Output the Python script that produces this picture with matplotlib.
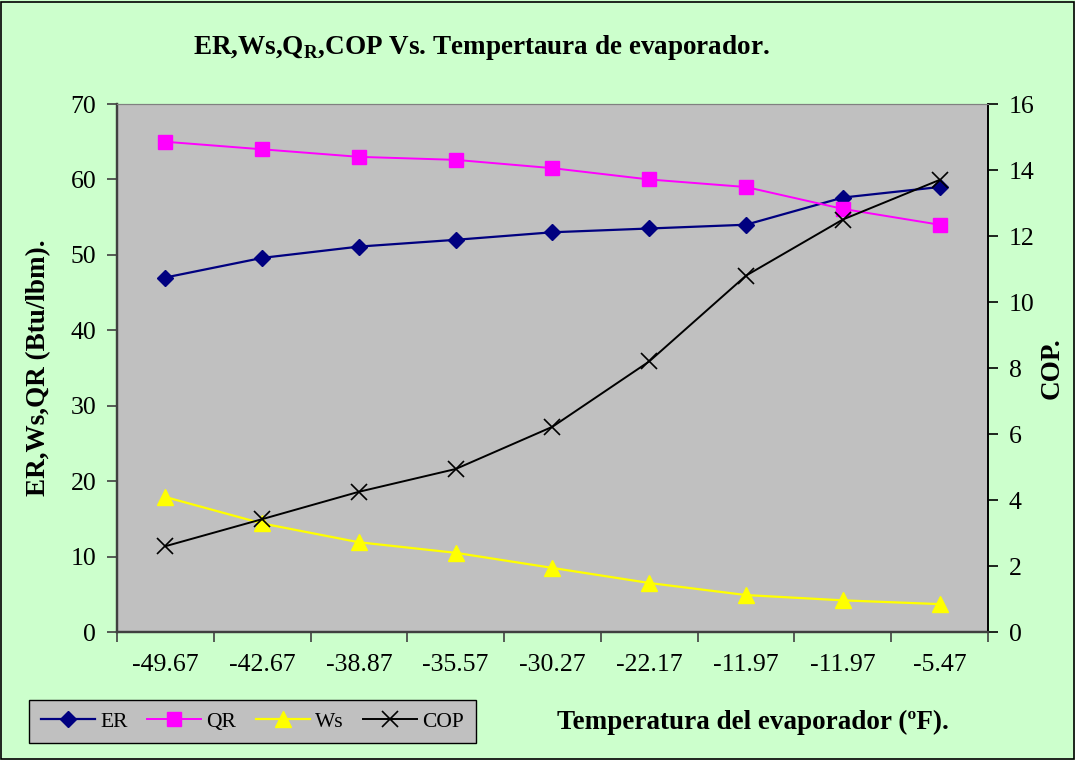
import matplotlib.pyplot as plt
from matplotlib.patches import Rectangle

plt.rcParams["font.family"] = ["Liberation Serif", "DejaVu Serif"]
plt.rcParams["mathtext.fontset"] = "custom"
plt.rcParams["mathtext.rm"] = "Liberation Serif"
plt.rcParams["mathtext.bf"] = "Liberation Serif:bold"

temps = ["-49.67", "-42.67", "-38.87", "-35.57", "-30.27", "-22.17", "-11.97", "-11.97", "-5.47"]
er = [47.0, 49.6, 51.1, 52.0, 53.0, 53.5, 54.0, 57.6, 59.0]
qr = [65.0, 64.0, 63.0, 62.6, 61.5, 60.0, 59.0, 56.1, 54.0]
ws = [17.9, 14.4, 11.9, 10.5, 8.5, 6.5, 4.9, 4.2, 3.7]
cop = [2.6, 3.42, 4.25, 4.94, 6.22, 8.2, 10.8, 12.5, 13.7]

x = list(range(len(temps)))

fig = plt.figure(figsize=(10.75, 7.6), dpi=100)
fig.patch.set_facecolor("#CCFFCC")
fig.patches.append(Rectangle((0.001, 0.001), 0.998, 0.997, transform=fig.transFigure,
                             fill=False, edgecolor="black", linewidth=1.2))

ax = fig.add_axes([0.1088, 0.1684, 0.8102, 0.6947])
ax.set_facecolor("#C0C0C0")
ax2 = ax.twinx()

l1, = ax.plot(x, er, color="#000080", marker="D", markersize=8.5, linewidth=1.6, label="ER")
l2, = ax.plot(x, qr, color="#FF00FF", marker="s", markersize=10, linewidth=1.4, label="QR")
l3, = ax.plot(x, ws, color="#FFFF00", marker="^", markersize=11, linewidth=1.6, label="Ws")
l4, = ax2.plot(x, cop, color="black", marker="x", markersize=11, markeredgewidth=1.2,
               linewidth=1.4, label="COP")

ax.set_xlim(-0.5, len(temps) - 0.5)
ax.set_ylim(0, 70)
ax.set_yticks(range(0, 71, 10))
ax2.set_ylim(0, 16)
ax2.set_yticks(range(0, 17, 2))

# category boundaries get the tick marks, labels sit in the middle
ax.set_xticks([i - 0.5 for i in range(len(temps) + 1)])
ax.set_xticklabels([])
ax.set_xticks(x, minor=True)
ax.set_xticklabels(temps, minor=True)
ax.tick_params(axis="x", which="minor", length=0, pad=16, labelsize=18.5)
ax.tick_params(axis="x", which="major", direction="out", length=7, width=1.2, color="#404040")
ax.tick_params(axis="y", direction="out", length=7, width=1.2, labelsize=18.5, pad=8, color="#404040")
ax2.tick_params(axis="y", direction="out", length=7, width=1.2, labelsize=18.5, pad=8)

for a in (ax, ax2):
    a.spines["top"].set_color("#808080")
    a.spines["left"].set_color("#404040")
    a.spines["left"].set_linewidth(1.6)
    a.spines["bottom"].set_color("#404040")
    a.spines["bottom"].set_linewidth(1.6)
    a.spines["right"].set_color("black")
    a.spines["right"].set_linewidth(1.2)

ax.set_ylabel("ER,Ws,QR (Btu/lbm).", fontsize=19.5, fontweight="bold", labelpad=14)
ax2.set_ylabel("COP.", fontsize=19.5, fontweight="bold", labelpad=4)

fig.text(0.448, 0.937, r"ER,Ws,Q$_\mathbf{R}$,COP Vs. Tempertaura de evaporador.",
         fontsize=19.5, fontweight="bold", ha="center", va="center")
fig.text(0.7, 0.05, "Temperatura del evaporador (ºF).", fontsize=19.5, fontweight="bold",
         ha="center", va="center")

leg = fig.legend(handles=[l1, l2, l3, l4], loc="center", bbox_to_anchor=(0.235, 0.0505),
                 ncol=4, fontsize=15.5, frameon=True, fancybox=False, handlelength=2.5,
                 columnspacing=0.9, handletextpad=0.25, borderpad=0.55)
leg.get_frame().set_facecolor("#C0C0C0")
leg.get_frame().set_edgecolor("black")
leg.get_frame().set_alpha(1)

fig.savefig("out.png", dpi=100, facecolor=fig.get_facecolor())
